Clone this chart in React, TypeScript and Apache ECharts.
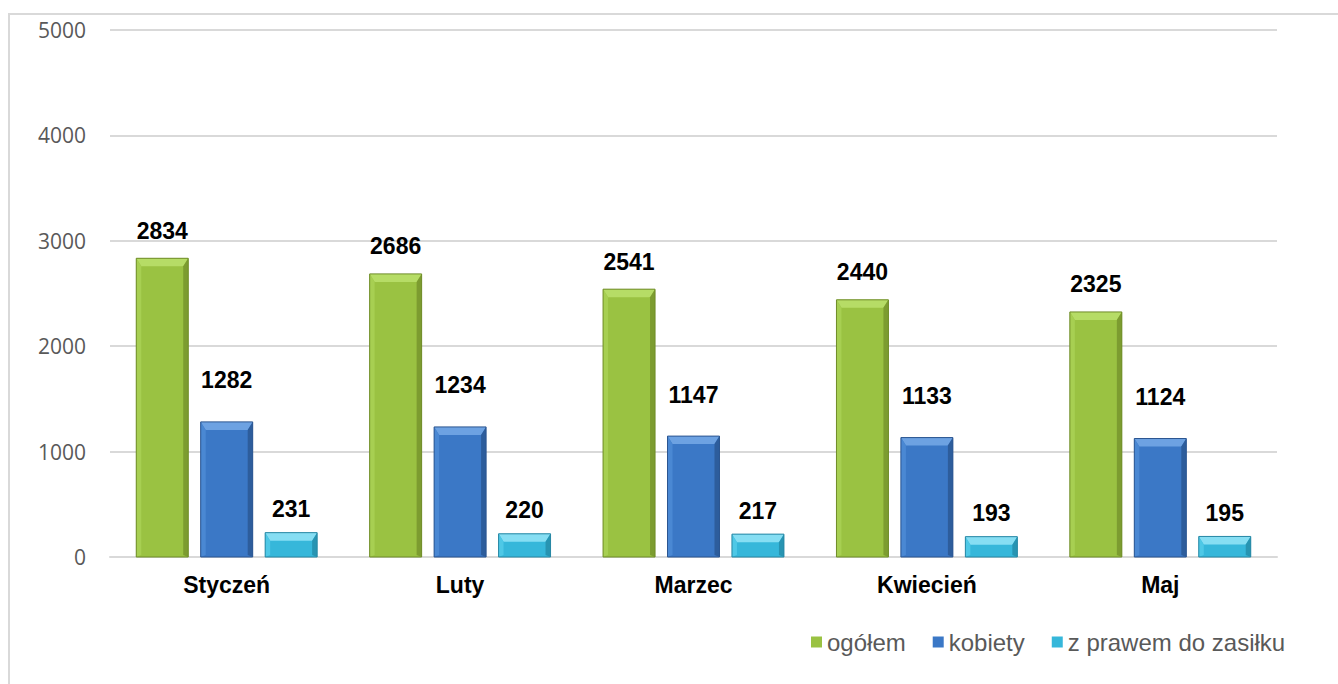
import React, { useEffect, useRef } from "react";
import * as echarts from "echarts";

const categories = ["Styczeń", "Luty", "Marzec", "Kwiecień", "Maj"];
const ogolem = [2834, 2686, 2541, 2440, 2325];
const kobiety = [1282, 1234, 1147, 1133, 1124];
const zasilek = [231, 220, 217, 193, 195];
const seriesNames = ["ogółem", "kobiety", "z prawem do zasiłku"];

const BAR_GAP = 0.24;
const CAT_GAP = 0.225;

const palettes = [
  { main: "#9ac242", top: "#b6dc66", left: "#a7cf52", right: "#7c9c30", border: "#6f8c28" },
  { main: "#3b78c6", top: "#6da2e2", left: "#4a88d3", right: "#2d5d9c", border: "#2b5590" },
  { main: "#36b7da", top: "#86def3", left: "#4ec8e6", right: "#2794b2", border: "#2787a4" },
];

export default function App() {
  const ref = useRef<HTMLDivElement>(null);
  useEffect(() => {
    if (!ref.current) return;
    const chart = echarts.init(ref.current, undefined, { renderer: "svg" });
    const allSeries = [ogolem, kobiety, zasilek];
    const bevelData: number[][] = [];
    allSeries.forEach((arr, s) => arr.forEach((v, i) => bevelData.push([i, v, s])));

    const labelStyle = (distance: number) => ({
      show: true,
      position: "top" as const,
      distance,
      fontFamily: "Liberation Sans, Arial, sans-serif",
      fontWeight: "bold" as const,
      fontSize: 23,
      color: "#000",
    });

    const renderBevel = (params: any, api: any) => {
      const i = api.value(0);
      const v = api.value(1);
      const s = api.value(2);
      const band = api.size([1, 0])[0];
      const usable = band * (1 - CAT_GAP);
      const bw = usable / (3 + 2 * BAR_GAP);
      const total = 3 * bw + 2 * bw * BAR_GAP;
      const [cx, top] = api.coord([i, v]);
      const bottom = api.coord([i, 0])[1];
      const x = cx - total / 2 + s * bw * (1 + BAR_GAP);
      const w = bw;
      const dTop = Math.min(8, (bottom - top) / 2);
      const dSide = 5;
      const p = palettes[s];
      return {
        type: "group",
        silent: true,
        children: [
          {
            type: "polygon",
            shape: { points: [[x, top], [x + w, top], [x + w - dSide, top + dTop], [x + dSide, top + dTop]] },
            style: { fill: p.top },
          },
          {
            type: "polygon",
            shape: { points: [[x, top], [x + dSide, top + dTop], [x + dSide, bottom - 2], [x, bottom]] },
            style: { fill: p.left },
          },
          {
            type: "polygon",
            shape: { points: [[x + w, top], [x + w - dSide, top + dTop], [x + w - dSide, bottom - 2], [x + w, bottom]] },
            style: { fill: p.right },
          },
          {
            type: "rect",
            shape: { x, y: top, width: w, height: bottom - top },
            style: { fill: "none", stroke: p.border, lineWidth: 1 },
          },
        ],
      };
    };

    chart.setOption({
      animation: false,
      backgroundColor: "#fff",
      graphic: [
        {
          type: "rect",
          shape: { x: 9, y: 14, width: 1400, height: 800 },
          style: { fill: "none", stroke: "#d9d9d9", lineWidth: 2 },
          silent: true,
        },
      ],
      grid: { left: 110, right: 61, top: 30, bottom: 127 },
      legend: {
        left: 806,
        top: 625,
        itemWidth: 11,
        itemHeight: 11,
        itemGap: 27,
        icon: "rect",
        textStyle: {
          fontFamily: "Liberation Sans, Arial, sans-serif",
          fontSize: 24,
          color: "#595959",
        },
        data: seriesNames,
      },
      xAxis: {
        type: "category",
        data: categories,
        axisTick: { show: false },
        axisLine: { show: true, lineStyle: { color: "#d9d9d9", width: 2 } },
        axisLabel: {
          margin: 16,
          fontFamily: "Liberation Sans, Arial, sans-serif",
          fontWeight: "bold",
          fontSize: 23,
          color: "#000",
        },
      },
      yAxis: {
        type: "value",
        min: 0,
        max: 5000,
        interval: 1000,
        axisLine: { show: false },
        axisTick: { show: false },
        splitLine: { lineStyle: { color: "#d9d9d9", width: 2 } },
        axisLabel: {
          margin: 24,
          fontFamily: "Open Sans, sans-serif",
          fontSize: 21,
          color: "#595959",
          formatter: (v: number) => String(v),
        },
      },
      series: [
        ...allSeries.map((arr, s) => ({
          name: seriesNames[s],
          type: "bar",
          data: arr,
          barGap: "24%",
          barCategoryGap: "22.5%",
          itemStyle: { color: palettes[s].main },
          label: labelStyle(s === 1 ? 30 : s === 0 ? 16 : 12),
        })),
        {
          name: "bevel",
          type: "custom",
          data: bevelData,
          renderItem: renderBevel,
          silent: true,
          z: 3,
        },
      ],
    });
    return () => chart.dispose();
  }, []);
  return (
    <div
      ref={ref}
      style={{ position: "absolute", left: 0, top: 0, width: 1338, height: 684 }}
    />
  );
}
